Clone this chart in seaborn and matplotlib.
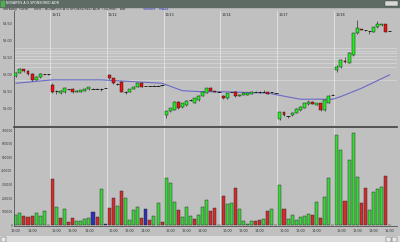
import numpy as np
import pandas as pd
import matplotlib
matplotlib.use("Agg")
import matplotlib.pyplot as plt
from matplotlib.patches import Rectangle
import seaborn as sns

# ---------------- data ----------------
day_labels = ["10/11", "10/12", "10/13", "10/14", "10/17", "10/18"]
day_start_idx = [9, 23, 37, 51, 65, 79]
time_tick_idx = [0, 4, 10, 14, 18, 24, 28, 32, 38, 42, 46, 52, 56, 60, 66, 70, 74, 80, 84, 88, 92]
time_tick_labels = ["12:00", "14:00"] + ["10:00", "12:00", "14:00"] * 6 + ["16:00"]

opens = [51.95, 52.05, 52.15, 52.10, 52.02, 51.85, 51.93, 52.00, 52.00,
         51.69, 51.52, 51.45, 51.47, 51.57, 51.58, 51.48, 51.49, 51.52, 51.56, 51.58, 51.58, 51.58, 51.60,
         51.98, 51.89, 51.74, 51.79, 51.49, 51.49, 51.57, 51.63, 51.75, 51.66, 51.66, 51.67, 51.67, 51.68,
         50.81, 50.91, 50.96, 51.20, 51.04, 51.10, 51.25, 51.17, 51.25, 51.37, 51.46, 51.59, 51.51, 51.49,
         51.37, 51.30, 51.48, 51.49, 51.36, 51.40, 51.40, 51.43, 51.49, 51.47, 51.49, 51.47, 51.47, 51.45,
         50.70, 50.88, 50.77, 50.80, 50.86, 50.94, 51.01, 51.12, 51.20, 51.10, 51.15, 50.94, 51.17, 51.40,
         52.12, 52.23, 52.40, 52.35, 52.57, 53.21, 53.34, 53.31, 53.27, 53.26, 53.39, 53.45, 53.49, 53.28]
highs = [52.08, 52.18, 52.17, 52.12, 52.04, 51.95, 52.03, 52.01, 52.01,
         51.74, 51.53, 51.53, 51.62, 51.58, 51.59, 51.53, 51.55, 51.59, 51.63, 51.59, 51.59, 51.59, 51.61,
         52.02, 51.90, 51.75, 51.80, 51.50, 51.58, 51.65, 51.76, 51.77, 51.67, 51.67, 51.68, 51.68, 51.69,
         50.92, 51.02, 51.22, 51.22, 51.17, 51.25, 51.27, 51.32, 51.39, 51.50, 51.61, 51.62, 51.52, 51.50,
         51.39, 51.46, 51.49, 51.51, 51.41, 51.47, 51.46, 51.50, 51.50, 51.52, 51.54, 51.48, 51.48, 51.46,
         50.90, 50.90, 50.78, 50.88, 51.00, 51.06, 51.16, 51.24, 51.21, 51.16, 51.16, 51.26, 51.38, 51.41,
         52.27, 52.46, 52.52, 52.66, 53.23, 53.60, 53.35, 53.32, 53.28, 53.40, 53.58, 53.49, 53.50, 53.29]
lows = [51.93, 52.03, 52.07, 51.99, 51.80, 51.83, 51.91, 51.99, 51.99,
        51.45, 51.42, 51.41, 51.45, 51.55, 51.46, 51.47, 51.48, 51.51, 51.55, 51.57, 51.57, 51.52, 51.59,
        51.88, 51.73, 51.69, 51.48, 51.43, 51.48, 51.56, 51.62, 51.62, 51.65, 51.65, 51.66, 51.66, 51.67,
        50.72, 50.89, 50.94, 50.99, 51.02, 51.08, 51.23, 51.15, 51.23, 51.35, 51.44, 51.51, 51.48, 51.48,
        51.29, 51.28, 51.47, 51.34, 51.35, 51.39, 51.39, 51.42, 51.48, 51.46, 51.48, 51.41, 51.46, 51.44,
        50.66, 50.78, 50.73, 50.79, 50.85, 50.93, 51.00, 51.11, 51.12, 51.09, 50.93, 50.92, 51.16, 51.39,
        52.06, 52.20, 52.35, 52.33, 52.55, 53.18, 53.30, 53.29, 53.18, 53.25, 53.38, 53.44, 53.25, 53.27]
closes = [52.05, 52.15, 52.10, 52.02, 51.83, 51.93, 52.00, 52.00, 52.00,
          51.47, 51.51, 51.52, 51.60, 51.57, 51.48, 51.52, 51.54, 51.58, 51.62, 51.58, 51.58, 51.58, 51.60,
          51.89, 51.74, 51.73, 51.49, 51.49, 51.57, 51.64, 51.75, 51.63, 51.66, 51.66, 51.67, 51.67, 51.68,
          50.91, 51.00, 51.20, 51.01, 51.15, 51.23, 51.24, 51.30, 51.37, 51.49, 51.59, 51.52, 51.49, 51.49,
          51.30, 51.45, 51.48, 51.35, 51.40, 51.46, 51.45, 51.49, 51.49, 51.47, 51.49, 51.42, 51.47, 51.45,
          50.88, 50.80, 50.77, 50.87, 50.98, 51.05, 51.15, 51.20, 51.13, 51.15, 50.94, 51.25, 51.37, 51.40,
          52.22, 52.43, 52.37, 52.64, 53.21, 53.36, 53.31, 53.30, 53.27, 53.39, 53.48, 53.48, 53.26, 53.28]

volumes = [77000, 89000, 70000, 60000, 70000, 89000, 70000, 109000, 3000,
           339000, 133000, 53000, 119000, 28000, 53000, 33000, 35000, 45000, 53000, 99000, 65000, 265000, 11000,
           126000, 199000, 145000, 255000, 199000, 40000, 110000, 133000, 55000, 123000, 40000, 70000, 163000, 26000,
           350000, 309000, 170000, 114000, 60000, 138000, 70000, 45000, 79000, 133000, 187000, 109000, 126000, 5000,
           216000, 158000, 163000, 277000, 119000, 33000, 11000, 35000, 35000, 40000, 50000, 109000, 119000, 5000,
           297000, 119000, 50000, 79000, 40000, 60000, 70000, 84000, 79000, 172000, 55000, 206000, 346000, 5000,
           663000, 553000, 182000, 480000, 676000, 358000, 163000, 273000, 114000, 248000, 265000, 284000, 363000, 5000]
volume_dir = list("GGRRRGGGB"
                  "RGRGRRGGGGBRGB"
                  "RRGRGGGGRBRGGR"
                  "GGGRGGGRGGGRRB"
                  "RGGRGGGGRRGRGB"
                  "GRGGGGGGRGRGGB"
                  "GGRGGGRRGGGGRB")

ma24_idx = [0, 9, 21, 36, 41, 46, 51, 62, 70, 78, 80, 85, 92]
ma24_val = [51.74, 51.84, 51.84, 51.74, 51.52, 51.49, 51.49, 51.45, 51.27, 51.27, 51.35, 51.59, 51.99]

ref_levels = [52.78, 52.70, 52.62, 52.54, 52.45, 52.35, 52.21, 51.84]

price_ticks = [51.0, 51.5, 52.0, 52.5, 53.0, 53.5]
volume_ticks = [0, 100000, 200000, 300000, 400000, 500000, 600000, 700000]

# ---------------- style ----------------
sns.set_style("white")
plt.rcParams["font.family"] = ["DejaVu Sans"]
BG = "#c0c0c0"
GREEN = "#22ee22"
RED = "#ee1111"
BLUE = "#1a1acc"
DAYLINE = "#e4e4e4"

W, H = 400, 242
fig = plt.figure(figsize=(W / 100, H / 100), dpi=100)
fig.patch.set_facecolor(BG)

def fy(px):
    return 1 - px / H

x_left, x_right = -0.32, 93.8
ax_p = fig.add_axes([14.5 / W, fy(125), 382.5 / W, (125 - 11) / H])
ax_v = fig.add_axes([14.5 / W, fy(226), 382.5 / W, (226 - 127) / H])

df = pd.DataFrame({"idx": np.arange(len(opens)), "open": opens, "high": highs,
                   "low": lows, "close": closes, "volume": volumes, "dir": volume_dir})

# ---------------- price panel ----------------
ax_p.set_facecolor(BG)
for lv in ref_levels:
    ax_p.axhline(lv, color="#d9d9d9", lw=0.5, zorder=0)
for d in day_start_idx:
    ax_p.axvline(d - 0.65, color=DAYLINE, lw=0.6, zorder=0)
    ax_v.axvline(d - 0.65, color=DAYLINE, lw=0.6, zorder=0)

sns.lineplot(x=ma24_idx, y=ma24_val, ax=ax_p, color="#6a6ac8", lw=0.8, zorder=1)

ax_p.vlines(df["idx"], df["low"], df["high"], color="#101010", lw=0.4, zorder=2)
body_lo = np.minimum(df["open"], df["close"])
body_h = np.abs(df["close"] - df["open"])
is_doji = body_h < 0.015
colors = np.where(df["close"] >= df["open"], GREEN, RED)
ax_p.bar(df["idx"][~is_doji], body_h[~is_doji], bottom=body_lo[~is_doji], width=0.72,
         color=colors[~is_doji], edgecolor="#101010", linewidth=0.3, zorder=3)
ax_p.hlines(df["close"][is_doji], df["idx"][is_doji] - 0.4, df["idx"][is_doji] + 0.4,
            color="#101010", lw=0.6, zorder=3)

ax_p.set_xlim(x_left, x_right)
ax_p.set_ylim(50.51, 53.87)
ax_p.set_yticks(price_ticks)
ax_p.set_yticklabels([f"{v:.2f}" for v in price_ticks])
ax_p.set_xticks([])
ax_p.set_xlabel("")
ax_p.set_ylabel("")
for d, lab in zip(day_start_idx, day_labels):
    ax_p.text(d - 0.3, 53.76, lab, fontsize=2.4, color="#202020", ha="left", va="center")

# ---------------- volume panel ----------------
ax_v.set_facecolor(BG)
sns.barplot(data=df, x="idx", y="volume", hue="dir", native_scale=True, dodge=False,
            palette={"G": GREEN, "R": RED, "B": BLUE}, width=0.75, legend=False,
            edgecolor="#202020", linewidth=0.3, ax=ax_v, zorder=2)
ax_v.set_xlim(x_left, x_right)
ax_v.set_ylim(-4000, 722000)
ax_v.set_yticks(volume_ticks)
ax_v.set_yticklabels([str(v) for v in volume_ticks])
ax_v.set_xticks(time_tick_idx)
ax_v.set_xticklabels(time_tick_labels)
ax_v.set_xlabel("")
ax_v.set_ylabel("")

for ax in (ax_p, ax_v):
    ax.tick_params(labelsize=2.4, length=1.2, width=0.4, pad=0.6, colors="#303030")
    for s in ("left", "bottom"):
        ax.spines[s].set_color("#505050")
        ax.spines[s].set_linewidth(0.6)
    ax.spines["right"].set_visible(False)
    ax.spines["top"].set_visible(False)
ax_v.tick_params(axis="y", labelsize=2.05, length=1.0, pad=0.4)
ax_v.spines["top"].set_visible(True)
ax_v.spines["top"].set_color("#404040")
ax_v.spines["top"].set_linewidth(1.2)
ax_p.spines["bottom"].set_visible(False)
ax_p.tick_params(axis="x", length=0)

# ---------------- window chrome ----------------
fig.add_artist(Rectangle((0, fy(7)), 1, 7 / H, transform=fig.transFigure,
                         color="#5e6a64", zorder=5))
fig.add_artist(Rectangle((1 / W, fy(6)), 3 / W, 5 / H, transform=fig.transFigure,
                         color="#4caf50", zorder=6))
fig.add_artist(Rectangle((385 / W, fy(6)), 13 / W, 5 / H, transform=fig.transFigure,
                         facecolor="#d8d8d8", edgecolor="#404040", lw=0.3, zorder=6))
fig.text(6 / W, fy(3.5), "NOVARTIS A G SPONSORED ADR", fontsize=2.3, color="white",
         va="center", ha="left", zorder=7)
fig.text(3 / W, fy(9), "Intraday  (Left)     NVS - NOVARTIS A G SPONSORED ADR  (30-Min)   Bar",
         fontsize=2.4, color="#202020", va="center", ha="left")
fig.text(143 / W, fy(9), "Volume   MA24", fontsize=2.4, color="#2a2ad0", va="center", ha="left")

fig.add_artist(Rectangle((0, 0), 1, 6 / H, transform=fig.transFigure,
                         facecolor="#dcdcdc", edgecolor="none", zorder=5))
fig.add_artist(Rectangle((0.5 / W, 0.5 / H), 5 / W, 5 / H, transform=fig.transFigure,
                         facecolor="#e8e8e8", edgecolor="#505050", lw=0.3, zorder=6))
fig.add_artist(Rectangle((386 / W, 0.5 / H), 5 / W, 5 / H, transform=fig.transFigure,
                         facecolor="#e8e8e8", edgecolor="#505050", lw=0.3, zorder=6))
fig.add_artist(Rectangle((392 / W, 0.5 / H), 5 / W, 5 / H, transform=fig.transFigure,
                         facecolor="#e8e8e8", edgecolor="#505050", lw=0.3, zorder=6))

fig.savefig("out.png", dpi=100, facecolor=fig.get_facecolor())
